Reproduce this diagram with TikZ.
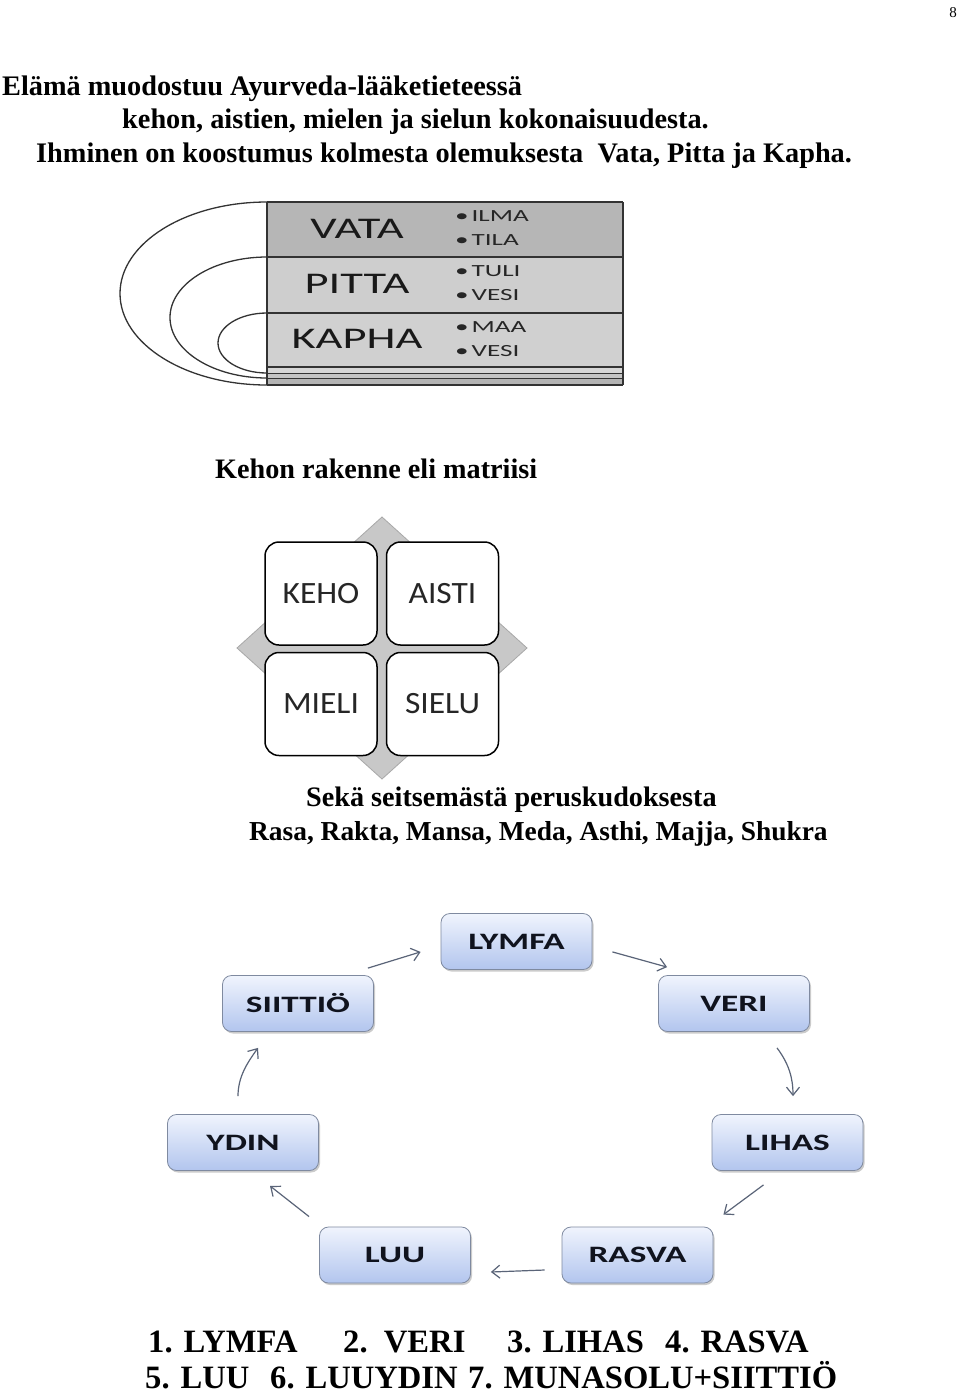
\documentclass[tikz,border=0pt]{standalone}
\usepackage{fontspec}
\usepackage{graphicx}
\setmainfont{Liberation Serif}
\newfontfamily\cyclefont{Carlito}[FakeStretch=1.5]
\newfontfamily\tabfont{Carlito}[FakeStretch=1.55]
\newfontfamily\tabsmall{Carlito}[FakeStretch=1.6]
\newfontfamily\matfont{Carlito}[FakeStretch=1.08]
\usetikzlibrary{arrows.meta,shadows,calc}
\definecolor{rowA}{HTML}{B6B6B6}
\definecolor{rowB}{HTML}{CECECE}
\definecolor{rowC}{HTML}{D0D0D0}
\definecolor{stripA}{HTML}{D6D6D6}
\definecolor{stripB}{HTML}{C4C4C4}
\definecolor{stripC}{HTML}{B4B4B4}
\definecolor{tabline}{HTML}{333333}
\definecolor{diam}{HTML}{C8C8C8}
\definecolor{diamedge}{HTML}{A8A8A8}
\definecolor{boxtop}{HTML}{F0F4FD}
\definecolor{boxbot}{HTML}{B2C5EE}
\definecolor{boxedge}{HTML}{7F8AA0}
\definecolor{arrcol}{HTML}{5A6478}
\definecolor{cyctext}{HTML}{10131E}
\tikzset{
  titletext/.style={anchor=base west, inner sep=0pt, font=\bfseries\fontsize{28.3}{32}\selectfont},
  midtext/.style={anchor=base west, inner sep=0pt, font=\bfseries\fontsize{28.2}{32}\selectfont},
  bottext/.style={anchor=base west, inner sep=0pt, font=\bfseries\fontsize{32.6}{36}\selectfont},
  tabname/.style={inner sep=0pt, font=\tabfont\fontsize{30}{32}\selectfont, text=black!90},
  tabitem/.style={anchor=west, inner sep=0pt, font=\tabsmall\fontsize{17}{18}\selectfont, text=black!85},
  arcline/.style={draw=tabline, line width=1.3pt},
  matbox/.style={draw=black, line width=1.5pt, fill=white, rounded corners=14pt,
    minimum width=112pt, minimum height=103pt, inner sep=0pt,
    font=\matfont\fontsize{31}{32}\selectfont, text=black!85},
  cycbox/.style={draw=boxedge, line width=0.8pt, rounded corners=9pt,
    top color=boxtop, bottom color=boxbot,
    minimum width=151pt, minimum height=56pt, inner sep=0pt,
    drop shadow={shadow xshift=1.5pt, shadow yshift=-2pt, fill=black!45, opacity=0.45},
    font=\cyclefont\bfseries\fontsize{23.5}{24}\selectfont, text=cyctext},
  arr/.style={draw=arrcol, line width=1.2pt, -{Straight Barb[length=8pt,width=13pt,line width=1.2pt]}}
}
\begin{document}
\begin{tikzpicture}[x=1pt, y=-1pt]
\useasboundingbox[fill=white] (0,0) rectangle (960,1393);

% page number
\node[anchor=base east, inner sep=0pt, font=\fontsize{15}{18}\selectfont] (pagenum) at (957,17) {8};

% title
\node[titletext] (t1) at (2,95) {Elämä muodostuu Ayurveda-lääketieteessä};
\node[titletext] (t2) at (122,128) {kehon, aistien, mielen ja sielun kokonaisuudesta.};
\node[titletext] (t3) at (36,162) {Ihminen on koostumus kolmesta olemuksesta\ \ Vata, Pitta ja Kapha.};

% dosha table
\fill[rowA] (267,202) rectangle (623,257);
\fill[rowB] (267,257) rectangle (623,313);
\fill[rowC] (267,313) rectangle (623,367);
\fill[stripA] (267,367) rectangle (623,373);
\fill[stripB] (267,373) rectangle (623,378);
\fill[stripC] (267,378) rectangle (623,385);
\draw[tabline, line width=1.2pt] (267,202) -- (623,202);
\draw[tabline, line width=1.2pt] (267,257) -- (623,257);
\draw[tabline, line width=1.2pt] (267,313) -- (623,313);
\draw[tabline, line width=1.2pt] (267,367) -- (623,367);
\draw[tabline, line width=0.8pt] (267,373) -- (623,373);
\draw[tabline, line width=0.8pt] (267,378) -- (623,378);
\draw[tabline, line width=1.2pt] (267,385) -- (623,385);
\draw[tabline, line width=1.5pt] (267,202) -- (267,385);
\draw[tabline, line width=1.5pt] (623,202) -- (623,385);
% nested arcs
\draw[arcline] (267,202) arc[start angle=90, end angle=270, x radius=147pt, y radius=91.5pt];
\draw[arcline] (267,257) arc[start angle=90, end angle=270, x radius=97pt, y radius=60.5pt];
\draw[arcline] (267,313) arc[start angle=90, end angle=270, x radius=49pt, y radius=30pt];
\node[tabname] (vata) at (357,229) {VATA};
\node[tabname] (pitta) at (357,284) {PITTA};
\node[tabname] (kapha) at (357,339) {KAPHA};
\node[tabitem] (ilma) at (455,216) {•\,ILMA};
\node[tabitem] (tila) at (455,240) {•\,TILA};
\node[tabitem] (tuli) at (455,271) {•\,TULI};
\node[tabitem] (vesia) at (455,295) {•\,VESI};
\node[tabitem] (maa) at (455,327) {•\,MAA};
\node[tabitem] (vesib) at (455,351) {•\,VESI};

% matrix
\node[midtext] (matrixtitle) at (215,478) {Kehon rakenne eli matriisi};
\filldraw[fill=diam, draw=diamedge, line width=0.8pt] (382,517) -- (527,648) -- (382,779) -- (237,648) -- cycle;
\node[matbox] (keho) at (321,593.5) {KEHO};
\node[matbox] (aisti) at (442.5,593.5) {AISTI};
\node[matbox] (mieli) at (321,704) {MIELI};
\node[matbox] (sielu) at (442.5,704) {SIELU};

\node[midtext] (s1) at (306,806) {Sekä seitsemästä peruskudoksesta};
\node[midtext, font=\bfseries\fontsize{27.4}{32}\selectfont] (s2) at (249,840) {Rasa, Rakta, Mansa, Meda, Asthi, Majja, Shukra};

% cycle
\node[cycbox] (lymfa) at (516.5,941.5) {LYMFA};
\node[cycbox] (siittio) at (298,1003.5) {SIITTIÖ};
\node[cycbox] (veri) at (734,1003.5) {VERI};
\node[cycbox] (ydin) at (243,1142.5) {YDIN};
\node[cycbox] (lihas) at (787.5,1142.5) {LIHAS};
\node[cycbox] (luu) at (395,1255) {LUU};
\node[cycbox] (rasva) at (637.5,1255) {RASVA};

\draw[arr] ([shift={(-6,-7)}]siittio.north east) -- ([shift={(-20,-18)}]lymfa.south west);
\draw[arr] ([shift={(20,-18)}]lymfa.south east) -- ([shift={(9,-8)}]veri.north west);
\draw[arr] ([shift={(43,16)}]veri.south) .. controls +(12,16) and +(0,-18) .. ([shift={(5.5,-18)}]lihas.north);
\draw[arr] ([shift={(-24,14)}]lihas.south) -- ([shift={(10,-12)}]rasva.north east);
\draw[arr] ([shift={(-17,15)}]rasva.west) -- ([shift={(20,17)}]luu.east);
\draw[arr] ([shift={(-10,-10)}]luu.north west) -- ([shift={(27,15)}]ydin.south);
\draw[arr] ([shift={(-5,-18)}]ydin.north) .. controls +(0,-20) and +(-10,14) .. ([shift={(-40,16)}]siittio.south);

% bottom list
\node[bottext] (l1a) at (148,1352) {1. LYMFA};
\node[bottext] (l1b) at (343,1352) {2.\ \ VERI};
\node[bottext] (l1c) at (507,1352) {3. LIHAS};
\node[bottext] (l1d) at (665,1352) {4. RASVA};
\node[bottext] (l2a) at (145,1388) {5. LUU};
\node[bottext] (l2b) at (270,1388) {6. LUUYDIN};
\node[bottext] (l2c) at (468,1388) {7. MUNASOLU+SIITTIÖ};
\end{tikzpicture}
\end{document}
